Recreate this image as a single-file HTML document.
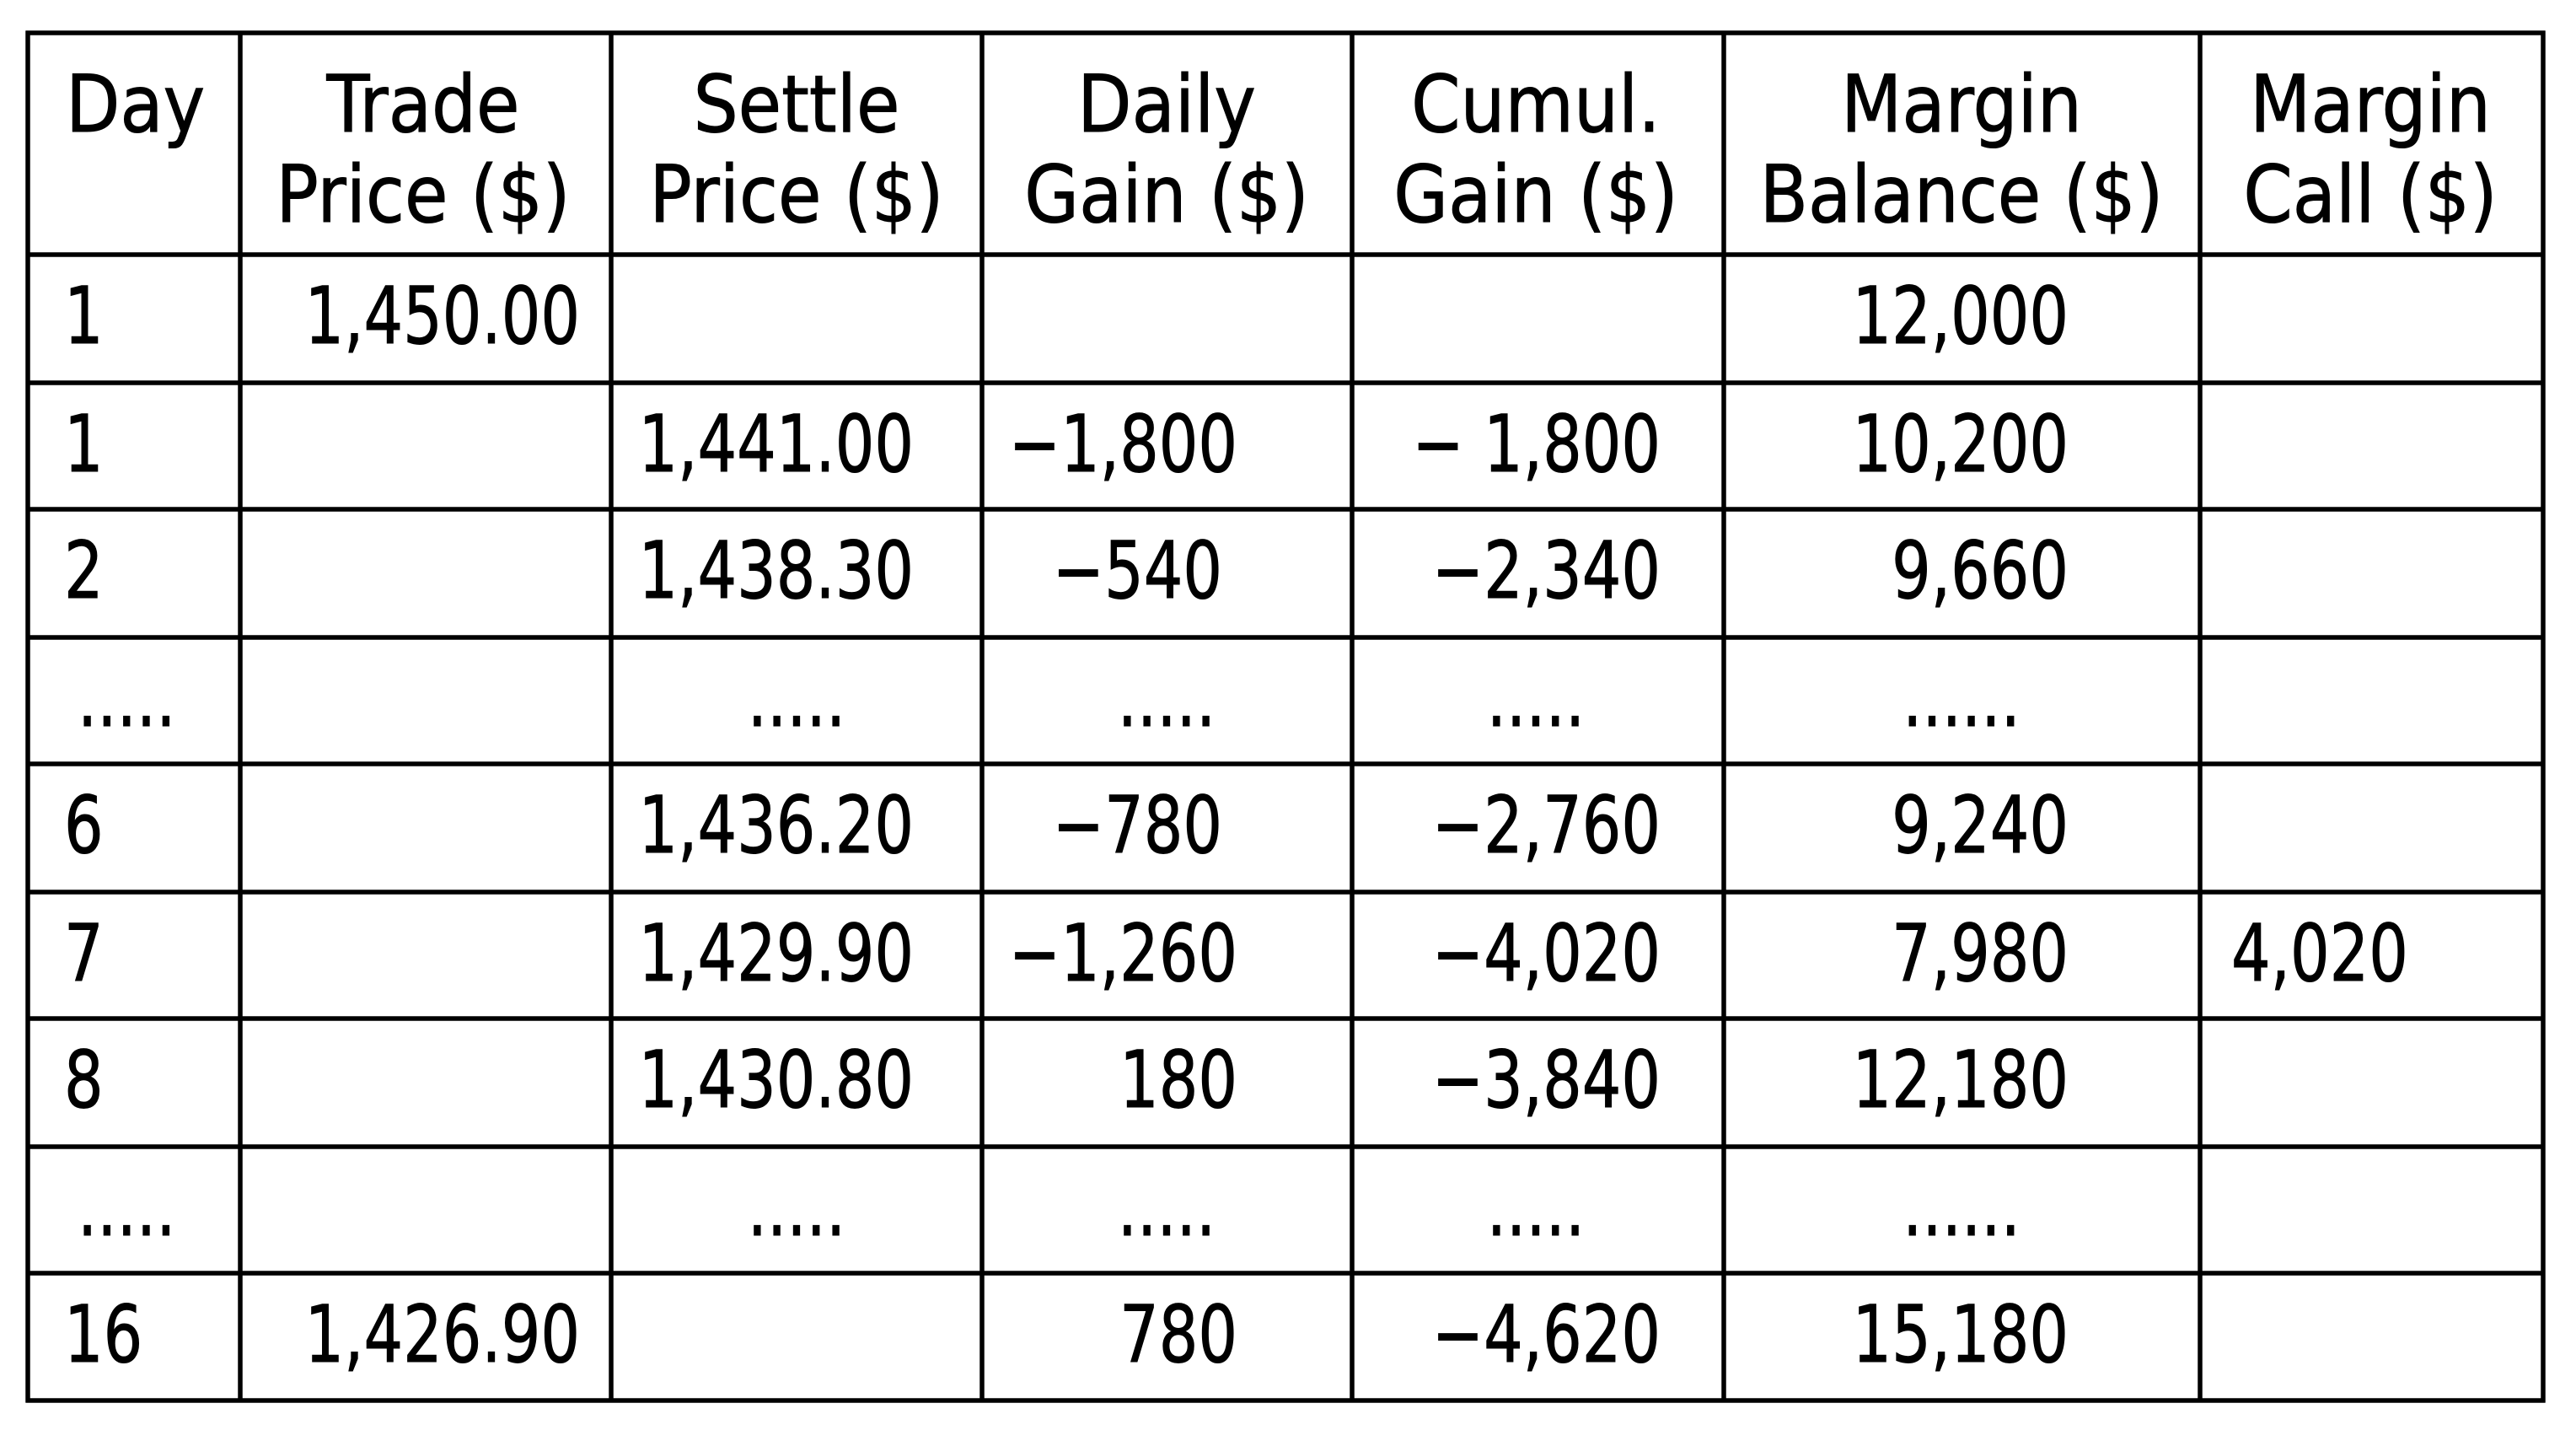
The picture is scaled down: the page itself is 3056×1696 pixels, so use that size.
<!DOCTYPE html>
<html><head><meta charset="utf-8"><style>
html,body{margin:0;padding:0;background:#fff;}
svg{display:block;}
text{font-family:"DejaVu Sans","Liberation Sans",sans-serif;font-size:94px;fill:#000;stroke:#000;stroke-width:1;}
</style></head><body>
<svg id="tbl" width="3056" height="1696" viewBox="0 0 3056 1696" xmlns="http://www.w3.org/2000/svg">
<rect width="3056" height="1696" fill="#fff"/>
<g id="grid"></g>
<g id="cells"></g>
</svg>
<script>
const colLines=[33,285,725,1165,1604,2045,2610,3017];
const rowLines=[39,302,454,604,756,906,1058,1208,1360,1510,1661];
const headers1=["Day","Trade","Settle","Daily","Cumul.","Margin","Margin"];
const headers2=["","Price ($)","Price ($)","Gain ($)","Gain ($)","Balance ($)","Call ($)"];
const headerX=[78,502,945,1384,1822,2327,2812];
const dayCol=["1","1","2",".....","6","7","8",".....","16"];
const tradeCol=["1,450.00","","","","","","","","1,426.90"];
const settleCol=["","1,441.00","1,438.30",".....","1,436.20","1,429.90","1,430.80",".....",""];
const dailyCol=["","\u22121,800","\u2212540",".....","\u2212780","\u22121,260","180",".....","780"];
const cumulCol=["","\u2212 1,800","\u22122,340",".....","\u22122,760","\u22124,020","\u22123,840",".....","\u22124,620"];
const balanceCol=["12,000","10,200","9,660","......","9,240","7,980","12,180","......","15,180"];
const callCol=["","","","","","4,020","","",""];
const NS="http://www.w3.org/2000/svg";
const SX=0.78, HSX=0.89;
const grid=document.getElementById('grid'),cells=document.getElementById('cells');
function line(x1,y1,x2,y2,n){const l=document.createElementNS(NS,'line');
l.setAttribute('x1',x1);l.setAttribute('y1',y1);l.setAttribute('x2',x2);l.setAttribute('y2',y2);
l.setAttribute('stroke','#000');l.setAttribute('stroke-width','5.5');


grid.appendChild(l);}
colLines.forEach((x,i)=>line(x,rowLines[0]-2.5,x,rowLines[rowLines.length-1]+2.5,'col-line-'+i));
rowLines.forEach((y,i)=>line(colLines[0]-2.5,y,colLines[colLines.length-1]+2.5,y,'row-line-'+i));
function txt(s,x,y,anchor,n,sx){if(!s)return;const t=document.createElementNS(NS,'text');
t.setAttribute('x',0);t.setAttribute('y',0);t.setAttribute('text-anchor',anchor);
t.setAttribute('transform','translate('+x+','+y+') scale('+(sx||SX)+',1)');t.textContent=s;


cells.appendChild(t);}
headers1.forEach((h,i)=>{const a=i==0?'start':'middle';
txt(h,headerX[i],156,a,'header-'+i+'-line1',HSX);txt(headers2[i],headerX[i],263,a,'header-'+i+'-line2',HSX);});
function isDots(s){return /^\.+$/.test(s);}
for(let r=0;r<dayCol.length;r++){
 const y=rowLines[r+1]+105;
 txt(dayCol[r],isDots(dayCol[r])?92:76,y,'start','day-'+r);
 txt(tradeCol[r],688,y,'end','trade-price-'+r);
 isDots(settleCol[r])?txt(settleCol[r],945,y,'middle','settle-price-'+r):txt(settleCol[r],1084,y,'end','settle-price-'+r);
 if(isDots(dailyCol[r]))txt(dailyCol[r],1384,y,'middle','daily-gain-'+r);
 else{const short=dailyCol[r].length==4&&dailyCol[r][0]=='\u2212';txt(dailyCol[r],short?1450:1468,y,'end','daily-gain-'+r);}
 isDots(cumulCol[r])?txt(cumulCol[r],1822,y,'middle','cumul-gain-'+r):txt(cumulCol[r],1970,y,'end','cumul-gain-'+r);
 isDots(balanceCol[r])?txt(balanceCol[r],2327,y,'middle','margin-balance-'+r):txt(balanceCol[r],2454,y,'end','margin-balance-'+r);
 txt(callCol[r],2647,y,'start','margin-call-'+r);
}
</script>
</body></html>
